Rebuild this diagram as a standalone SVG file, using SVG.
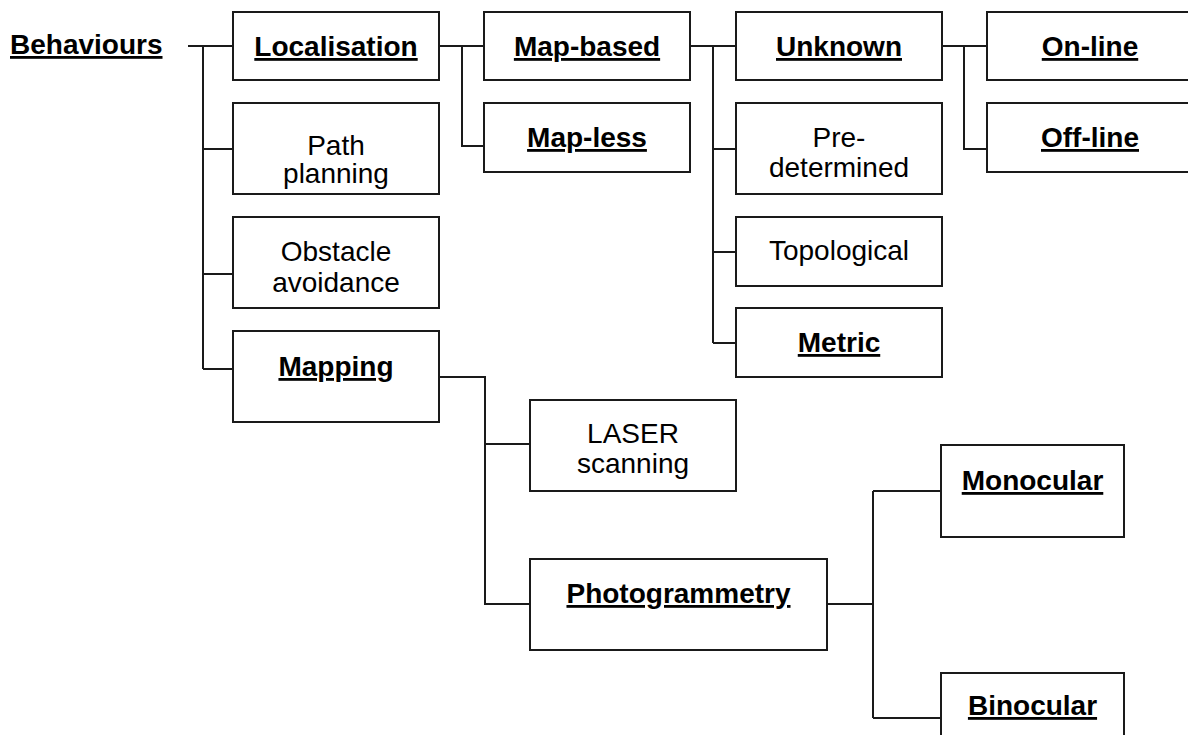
<svg xmlns="http://www.w3.org/2000/svg" width="1188" height="735" viewBox="0 0 1188 735">
<style>
  .box { fill: #fff; stroke: #1a1a1a; stroke-width: 2; }
  .conn { fill: none; stroke: #1a1a1a; stroke-width: 2; }
  text { font-family: "Liberation Sans", Arial, sans-serif; font-size: 28px; fill: #000; text-anchor: middle; }
  .b { font-weight: bold; text-decoration: underline; }
</style>
<rect width="1188" height="735" fill="#fff"/>
<g id="connectors">
  <path class="conn" d="M188,46 H233 M203,46 V369 M203,149 H233 M203,274 H233 M203,369 H233"/>
  <path class="conn" d="M439,46 H484 M462,46 V146 H484"/>
  <path class="conn" d="M690,46 H736 M713,46 V343 M713,149 H736 M713,252 H736 M713,343 H736"/>
  <path class="conn" d="M942,46 H987 M964,46 V149 H987"/>
  <path class="conn" d="M439,377 H485 V604 H530 M485,444 H530"/>
  <path class="conn" d="M827,604 H873 M873,491 V718 M873,491 H941 M873,718 H941"/>
</g>
<g id="behaviours"><text class="b" x="10" y="54" style="text-anchor:start">Behaviours</text></g>
<g id="localisation"><rect class="box" x="233" y="12" width="206" height="68"/><text class="b" x="336" y="56">Localisation</text></g>
<g id="path-planning"><rect class="box" x="233" y="103" width="206" height="91"/><text x="336" y="155">Path</text><text x="336" y="183">planning</text></g>
<g id="obstacle-avoidance"><rect class="box" x="233" y="217" width="206" height="91"/><text x="336" y="261">Obstacle</text><text x="336" y="292">avoidance</text></g>
<g id="mapping"><rect class="box" x="233" y="331" width="206" height="91"/><text class="b" x="336" y="376">Mapping</text></g>
<g id="map-based"><rect class="box" x="484" y="12" width="206" height="68"/><text class="b" x="587" y="56">Map-based</text></g>
<g id="map-less"><rect class="box" x="484" y="103" width="206" height="69"/><text class="b" x="587" y="147">Map-less</text></g>
<g id="unknown"><rect class="box" x="736" y="12" width="206" height="68"/><text class="b" x="839" y="56">Unknown</text></g>
<g id="pre-determined"><rect class="box" x="736" y="103" width="206" height="91"/><text x="839" y="147">Pre-</text><text x="839" y="177">determined</text></g>
<g id="topological"><rect class="box" x="736" y="217" width="206" height="69"/><text x="839" y="260">Topological</text></g>
<g id="metric"><rect class="box" x="736" y="308" width="206" height="69"/><text class="b" x="839" y="352">Metric</text></g>
<g id="on-line"><rect class="box" x="987" y="12" width="205" height="68"/><text class="b" x="1090" y="56">On-line</text></g>
<g id="off-line"><rect class="box" x="987" y="103" width="205" height="69"/><text class="b" x="1090" y="147">Off-line</text></g>
<g id="laser-scanning"><rect class="box" x="530" y="400" width="206" height="91"/><text x="633" y="443">LASER</text><text x="633" y="473">scanning</text></g>
<g id="photogrammetry"><rect class="box" x="530" y="559" width="297" height="91"/><text class="b" x="678.5" y="603">Photogrammetry</text></g>
<g id="monocular"><rect class="box" x="941" y="445" width="183" height="92"/><text class="b" x="1032.5" y="490">Monocular</text></g>
<g id="binocular"><rect class="box" x="941" y="673" width="183" height="91"/><text class="b" x="1032.5" y="715">Binocular</text></g>
</svg>
